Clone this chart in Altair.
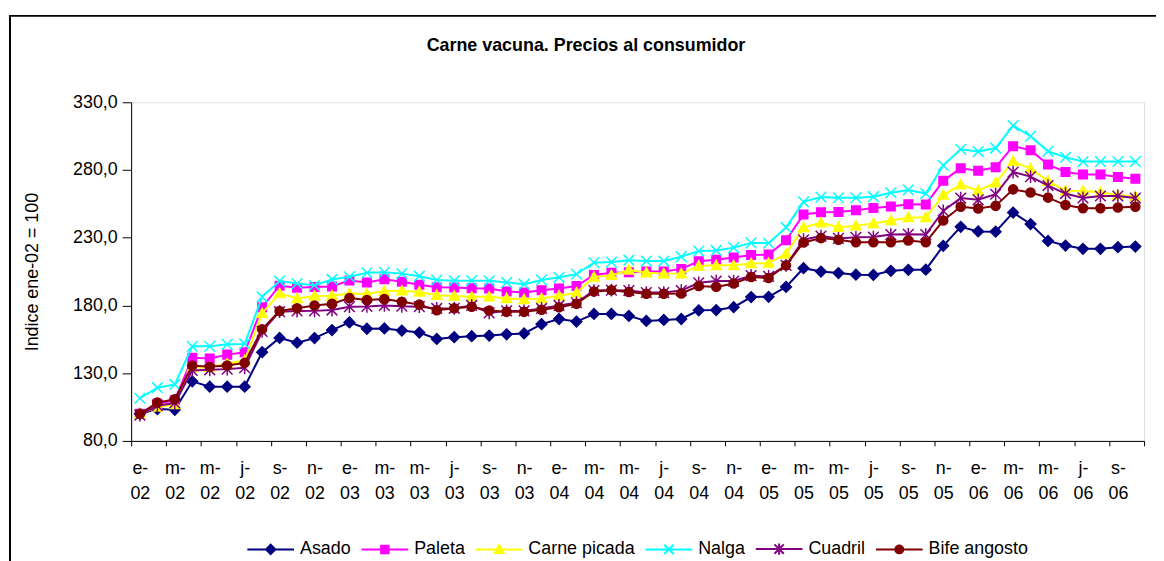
import altair as alt
import pandas as pd

# ---------------- data ----------------
chart_title = "Carne vacuna. Precios al consumidor"
series_names = ["Asado", "Paleta", "Carne picada", "Nalga", "Cuadril", "Bife angosto"]
series_colors = ["#000080", "#FF00FF", "#FFFF00", "#00FFFF", "#800080", "#800000"]
marker_kinds = ["diamond", "square", "triangle", "x", "asterisk", "circle"]

tick_labels = ["e-02", "m-02", "m-02", "j-02", "s-02", "n-02",
               "e-03", "m-03", "m-03", "j-03", "s-03", "n-03",
               "e-04", "m-04", "m-04", "j-04", "s-04", "n-04",
               "e-05", "m-05", "m-05", "j-05", "s-05", "n-05",
               "e-06", "m-06", "m-06", "j-06", "s-06"]

asado = [100, 103.5, 103, 124, 120, 120, 120, 145.5, 156, 152.5,
         155.9, 161.8, 167.5, 162.8, 163, 161.5, 160, 155.3, 156.6, 157.3,
         157.8, 158.7, 159.3, 166.2, 170, 168.1, 173.7, 173.7, 172.3, 168.6,
         169.3, 170, 176.4, 176.6, 178.7, 186.2, 186.4, 193.7, 207.5, 205,
         203.9, 202.7, 202.5, 205.6, 206.3, 206.4, 224, 238.1, 234.6, 234.5,
         248.6, 240.1, 227.6, 224.2, 221.8, 221.8, 223, 223.5]
paleta = [100, 107.5, 110, 141.3, 140.8, 143.7, 145.4, 178.7, 194.6, 193.1,
          193.6, 194, 198.5, 197, 199.4, 197.5, 195.3, 193.4, 193.2, 192.7,
          192.5, 190.3, 189.6, 191.3, 192.5, 194.3, 202.5, 204.1, 204.5, 205,
          205, 207, 212.6, 213.8, 215.4, 217.2, 217.6, 228.1, 247.2, 248.8,
          249, 250.3, 252, 253.1, 254.7, 254.5, 272, 281.3, 279.4, 282,
          297.6, 294.6, 284, 278.6, 276.7, 276.7, 274.8, 273.6]
carne_picada = [100, 105, 107, 134, 134.5, 137, 139.5, 174.2, 188.9, 185.2,
                187, 187.2, 188.8, 188.5, 190.6, 190.8, 190, 187.6, 187, 186.4,
                186.4, 185.2, 184.5, 185.2, 187.2, 189.4, 201, 202.3, 206.2, 204.2,
                203.5, 203.5, 209.2, 209.6, 209.6, 211, 211.3, 218.1, 237.6, 241,
                237.8, 238.9, 240.5, 242.7, 244.9, 244.9, 261.5, 269.2, 264.8, 270.6,
                286.4, 281, 271.8, 264.7, 264.5, 263.5, 261.5, 260.5]
nalga = [111.5, 119.3, 121.7, 149.8, 149.8, 151.3, 151.6, 186.4, 198, 196.2,
         194.9, 199.2, 201.2, 204.1, 204.5, 203.5, 201.6, 198.8, 198.2, 198.3,
         198.2, 197, 195.7, 198.8, 200.8, 203.1, 211.6, 212, 213.4, 212.8,
         212.8, 216, 220.2, 220.6, 222.7, 226.2, 226, 237.6, 256.5, 260,
         259.5, 259.5, 260.3, 263.2, 265.3, 262.6, 283.4, 295.3, 293.6, 296.2,
         312.8, 305, 293.8, 289.4, 286.2, 286.2, 286.2, 286.2]
cuadril = [99, 106, 108, 132, 132.5, 133, 134, 160.8, 175.4, 175.9,
           176, 176.6, 179.1, 179.3, 180, 179.4, 179.1, 177.8, 177.9, 180,
           174.5, 176, 176, 177.8, 180, 182, 191, 191.3, 191, 189.5,
           189.5, 191, 196.7, 198, 198, 202, 201.5, 209.6, 228.5, 231.2,
           229.5, 230.3, 230.5, 232.3, 232.5, 232.3, 249.8, 259.3, 258, 262.1,
           278.5, 275.1, 268.5, 262.6, 259.4, 260.8, 260.8, 259.3]
bife_angosto = [100, 108.3, 110.7, 135.6, 134.7, 135.6, 137.6, 162.5, 175.9, 177.9,
                180, 181.2, 185.5, 184, 184.8, 182.7, 180.6, 176.4, 177.9, 179.1,
                176.3, 175.4, 175.4, 176.9, 178.7, 181.3, 190.3, 191.3, 190, 188.6,
                188.6, 188.9, 194.3, 193.7, 196.2, 201, 200.2, 209.6, 226.5, 229.7,
                228.5, 226.6, 226.6, 226.6, 227.9, 226.6, 242.7, 252.8, 251.6, 253.5,
                265.7, 263.4, 259.6, 254.1, 251.8, 251.8, 252.3, 252.8]

all_values = [asado, paleta, carne_picada, nalga, cuadril, bife_angosto]
n_months = len(asado)

rows = []
for name, vals in zip(series_names, all_values):
    for i, v in enumerate(vals):
        rows.append({"serie": name, "mes": i, "valor": v})
df = pd.DataFrame(rows)


# ---------------- marker shapes ----------------
def marker_path(kind, r):
    f = lambda v: f"{v:.3f}"
    if kind == "diamond":
        return f"M{f(-r)},0L0,{f(-r)}L{f(r)},0L0,{f(r)}Z"
    if kind == "square":
        return f"M{f(-r)},{f(-r)}H{f(r)}V{f(r)}H{f(-r)}Z"
    if kind == "triangle":
        return f"M0,{f(-r)}L{f(r)},{f(0.8*r)}L{f(-r)},{f(0.8*r)}Z"
    if kind == "x":
        return f"M{f(-r)},{f(-r)}L{f(r)},{f(r)}M{f(-r)},{f(r)}L{f(r)},{f(-r)}"
    if kind == "asterisk":
        return (f"M{f(-r)},{f(-r)}L{f(r)},{f(r)}M{f(-r)},{f(r)}L{f(r)},{f(-r)}"
                f"M0,{f(-1.2*r)}V{f(1.2*r)}")
    return f"M{f(r)},0A{f(r)},{f(r)} 0 1,1 {f(-r)},0A{f(r)},{f(r)} 0 1,1 {f(r)},0Z"


marker_sizes = {"diamond": 1.0, "square": 0.8, "triangle": 0.95, "x": 1.0, "asterisk": 1.0, "circle": 0.85}
point_paths = [marker_path(k, marker_sizes[k]) for k in marker_kinds]
legend_paths = ["M-1,0H1" + marker_path(k, 0.2 * marker_sizes[k]) for k in marker_kinds]

# ---------------- layout ----------------
W, H = 1020, 341
cat_px = W / n_months
FONT = "Liberation Sans"
FS = 18

pairs = []
for lab in tick_labels:
    a, b = lab.split("-")
    pairs.append(f"['{a}-','{b}']")
pairs.append("['']")
label_js = "[" + ",".join(pairs) + "]"
tick_values = [2 * k - 0.5 for k in range(len(tick_labels) + 1)]

x_axis = alt.Axis(values=tick_values, labelExpr=f"{label_js}[round((datum.value + 0.5) / 2)]",
                  labelOffset=cat_px / 2, tickSize=5, tickColor="black", domainColor="black",
                  labelColor="black", labelFontSize=FS, labelFont=FONT, labelLineHeight=25,
                  labelPadding=14, labelOverlap=False, labelFlush=False, labelBound=False,
                  labelBaseline="top", grid=False, title=None)
y_axis = alt.Axis(values=[80, 130, 180, 230, 280, 330],
                  labelExpr="replace(format(datum.value, '.1f'), '.', ',')",
                  tickSize=9, tickColor="black", domainColor="black", labelColor="black",
                  labelFontSize=FS, labelFont=FONT, labelPadding=5, grid=False,
                  title="Indice ene-02 = 100", titleFont=FONT, titleFontSize=FS,
                  titleFontWeight="normal", titleColor="black", titleX=-90, titleY=H / 2)

x_enc = alt.X("mes:Q", scale=alt.Scale(domain=[-0.5, n_months - 0.5], nice=False, zero=False), axis=x_axis)
y_enc = alt.Y("valor:Q", scale=alt.Scale(domain=[80, 330], nice=False, zero=False), axis=y_axis)

legend = alt.Legend(title=None, orient="none", direction="horizontal", legendX=116, legendY=425,
                    symbolSize=2209, symbolStrokeWidth=2, symbolOpacity=1, symbolFillColor="white",
                    labelFontSize=FS, labelFont=FONT, labelColor="black", labelOffset=5,
                    columnPadding=6)

base = alt.Chart(df)

series_layers = []
for name, col, path in zip(series_names, series_colors, point_paths):
    sub = base.transform_filter(alt.datum.serie == name)
    series_layers.append(sub.mark_line(strokeWidth=2, color=col).encode(x=x_enc, y=y_enc))
    series_layers.append(
        sub.mark_point(shape=path, size=115, filled=True, color=col, stroke=col,
                       strokeWidth=1.5, opacity=1).encode(x=x_enc, y=y_enc)
    )

# invisible layer that only provides the legend (line + marker symbols)
legend_layer = base.mark_point(size=0, filled=False, strokeWidth=2).encode(
    x=x_enc, y=y_enc,
    color=alt.Color("serie:N", scale=alt.Scale(domain=series_names, range=series_colors), legend=legend),
    fill=alt.Fill("serie:N", scale=alt.Scale(domain=series_names, range=series_colors), legend=legend),
    shape=alt.Shape("serie:N", scale=alt.Scale(domain=series_names, range=legend_paths), legend=legend),
)

# outer chart frame (top and left edges fall inside the page) and the chart title
frame_df = pd.DataFrame({"titulo": [chart_title]})
frame_top = alt.Chart(frame_df).mark_rule(color="black", strokeWidth=2).encode(
    x=alt.value(-123), x2=alt.value(1040), y=alt.value(-87), y2=alt.value(-87))
frame_left = alt.Chart(frame_df).mark_rule(color="black", strokeWidth=2).encode(
    x=alt.value(-122), x2=alt.value(-122), y=alt.value(-88), y2=alt.value(480))
title_text = alt.Chart(frame_df).mark_text(
    font=FONT, fontSize=FS, fontWeight="bold", color="black", align="center", baseline="alphabetic"
).encode(x=alt.value(458), y=alt.value(-52), text="titulo:N")

chart = alt.layer(frame_top, frame_left, title_text, *series_layers, legend_layer).properties(
    width=W, height=H,
    autosize=alt.AutoSizeParams(type="none"),
    padding={"left": 124, "top": 93, "right": 12, "bottom": 119},
).configure_view(stroke="#808080", strokeWidth=1).configure(background="white", font=FONT)

chart.save("out.html", embed_options={"renderer": "svg", "actions": False})
